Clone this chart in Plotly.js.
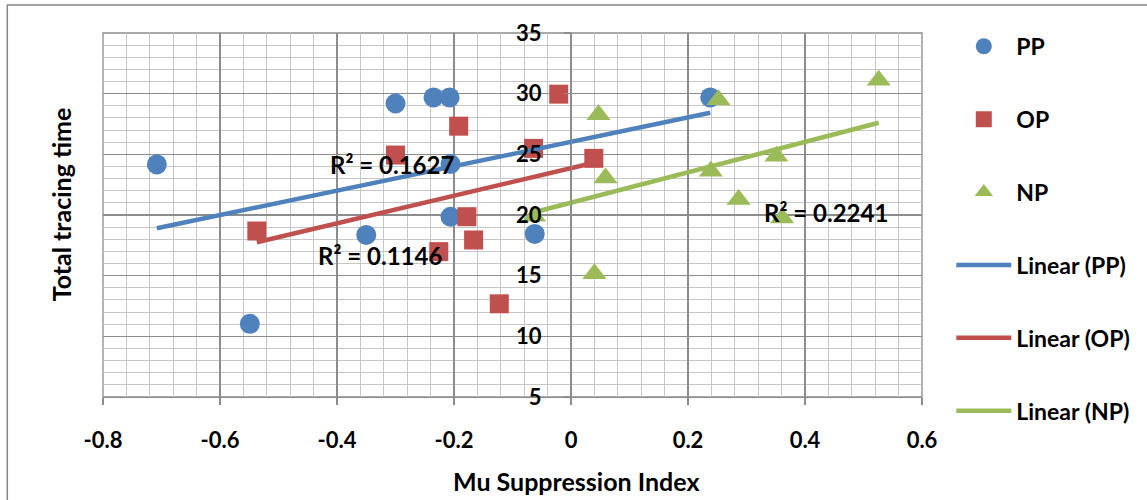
<!DOCTYPE html>
<html>
<head>
<meta charset="utf-8">
<script src="https://cdn.plot.ly/plotly-3.0.1.min.js"></script>
<style>
  html, body { margin: 0; padding: 0; background: #fff; }
  #chart { width: 1147px; height: 500px; }
</style>
</head>
<body>
<div id="chart"></div>
<script>
// ---- data ----
const ppX = [-0.708, -0.549, -0.350, -0.300, -0.235, -0.2075, -0.206, -0.206, -0.062, 0.238];
const ppY = [24.17, 11.03, 18.36, 29.19, 29.69, 29.69, 24.20, 19.86, 18.44, 29.69];

const opX = [-0.537, -0.300, -0.226, -0.192, -0.178, -0.1665, -0.1226, -0.064, -0.021, 0.039];
const opY = [18.68, 24.94, 16.98, 27.32, 19.86, 17.94, 12.68, 25.49, 29.96, 24.67];

const npX = [-0.063, 0.040, 0.047, 0.059, 0.239, 0.252, 0.2865, 0.351, 0.361, 0.526];
const npY = [19.90, 15.15, 28.27, 23.05, 23.60, 29.50, 21.27, 24.84, 19.76, 31.10];

const seriesNames = ["PP", "OP", "NP"];
const trendNames = ["Linear (PP)", "Linear (OP)", "Linear (NP)"];
const r2Labels = ["R\u00B2 = 0.1627", "R\u00B2 = 0.1146", "R\u00B2 = 0.2241"];
const xTickVals = [-0.8, -0.6, -0.4, -0.2, 0, 0.2, 0.4, 0.6];
const xTickText = ["-0.8", "-0.6", "-0.4", "-0.2", "0", "0.2", "0.4", "0.6"];
const yTickVals = [5, 10, 15, 20, 25, 30, 35];
const xTitle = "Mu Suppression Index";
const yTitle = "Total tracing time";

// ---- styling ----
const colors = ["#4F81BD", "#C0504D", "#9BBB59"];
const symbols = ["circle", "square", "triangle-up"];
const sizes = [20, 19, 21];
const FONT = "Lato, 'Open Sans', sans-serif";

// least-squares linear fit, drawn over the data's x range
function fit(xs, ys) {
  const n = xs.length;
  const mx = xs.reduce((a, b) => a + b, 0) / n;
  const my = ys.reduce((a, b) => a + b, 0) / n;
  let sxy = 0, sxx = 0;
  for (let i = 0; i < n; i++) { sxy += (xs[i] - mx) * (ys[i] - my); sxx += (xs[i] - mx) ** 2; }
  const b = sxy / sxx, a = my - b * mx;
  const x0 = Math.min(...xs), x1 = Math.max(...xs);
  return { x: [x0, x1], y: [a + b * x0, a + b * x1] };
}

const xs = [ppX, opX, npX], ys = [ppY, opY, npY];
const traces = [];
for (let i = 0; i < 3; i++) {
  traces.push({
    type: "scatter", mode: "markers", name: seriesNames[i],
    x: xs[i], y: ys[i], legendgroup: "g" + i,
    marker: { color: colors[i], symbol: symbols[i], size: sizes[i], line: { width: 0 } },
    cliponaxis: false
  });
}
for (let i = 0; i < 3; i++) {
  const f = fit(xs[i], ys[i]);
  traces.push({
    type: "scatter", mode: "lines", name: trendNames[i],
    x: f.x, y: f.y, legendgroup: "t" + i,
    line: { color: colors[i], width: 4.5 }
  });
}

const W = 1147, H = 500, L = 102.7, R = 225.3, T = 32.7, B = 102.7;
const pw = W - L - R, ph = H - T - B;
const px = v => (v - L) / pw;
const py = v => (H - B - v) / ph;

const tickFont = { family: FONT, size: 22, color: "#000", weight: "bold" };
const titleFont = { family: FONT, size: 25, color: "#000", weight: "bold" };
const r2Font = { family: FONT, size: 24, color: "#000", weight: "bold" };

const layout = {
  width: W, height: H,
  margin: { l: L, r: R, t: T, b: B, pad: 0 },
  paper_bgcolor: "#fff", plot_bgcolor: "#fff",
  showlegend: true,
  xaxis: {
    range: [-0.8, 0.6], tickvals: xTickVals, ticktext: xTickText,
    showgrid: true, gridcolor: "#8c8c8c", gridwidth: 1.3,
    minor: { dtick: 0.04, tick0: -0.8, showgrid: true, gridcolor: "#c6c6c6", gridwidth: 1 },
    zeroline: false, showline: true, linecolor: "#8c8c8c", linewidth: 1.3,
    ticks: "outside", ticklen: 7, tickcolor: "#8c8c8c", tickwidth: 1.3,
    tickfont: tickFont, ticklabelstandoff: 16, fixedrange: true
  },
  yaxis: {
    range: [5, 35], tickvals: yTickVals,
    showgrid: true, gridcolor: "#8c8c8c", gridwidth: 1.3,
    minor: { dtick: 1, tick0: 5, showgrid: true, gridcolor: "#c6c6c6", gridwidth: 1 },
    zeroline: false, showline: true, linecolor: "#8c8c8c", linewidth: 1.3,
    anchor: "free", position: 4 / 7,
    ticks: "outside", ticklen: 7, tickcolor: "#8c8c8c", tickwidth: 1.3,
    tickfont: tickFont, ticklabelstandoff: 18, fixedrange: true
  },
  legend: {
    x: px(951), xanchor: "left", y: py(24.5), yanchor: "top",
    font: { family: FONT, size: 23, color: "#000", weight: "bold" },
    itemwidth: 55, tracegroupgap: 40, traceorder: "grouped",
    maxheight: 480,
    bgcolor: "rgba(0,0,0,0)", borderwidth: 0
  },
  shapes: [
    { type: "rect", xref: "paper", yref: "paper", x0: 0, x1: 1, y0: 0, y1: 1,
      line: { color: "#8c8c8c", width: 1.3 }, layer: "below" },
    { type: "rect", xref: "paper", yref: "paper", x0: px(7), x1: px(1200), y0: py(560), y1: py(4.7),
      line: { color: "#868686", width: 1.5 }, layer: "below" }
  ],
  annotations: [
    { xref: "paper", yref: "paper", x: px(576), y: py(481), xanchor: "center", yanchor: "middle",
      text: xTitle, showarrow: false, font: titleFont },
    { xref: "paper", yref: "paper", x: px(61), y: py(204), xanchor: "center", yanchor: "middle",
      text: yTitle, showarrow: false, textangle: -90, font: titleFont },
    { xref: "x", yref: "y", x: -0.3055, y: 24.2, xanchor: "center", yanchor: "middle",
      text: r2Labels[0], showarrow: false, font: r2Font },
    { xref: "x", yref: "y", x: -0.326, y: 16.63, xanchor: "center", yanchor: "middle",
      text: r2Labels[1], showarrow: false, font: r2Font },
    { xref: "x", yref: "y", x: 0.4364, y: 20.17, xanchor: "center", yanchor: "middle",
      text: r2Labels[2], showarrow: false, font: r2Font }
  ]
};

Plotly.newPlot("chart", traces, layout, { displayModeBar: false, staticPlot: true });
</script>
</body>
</html>
